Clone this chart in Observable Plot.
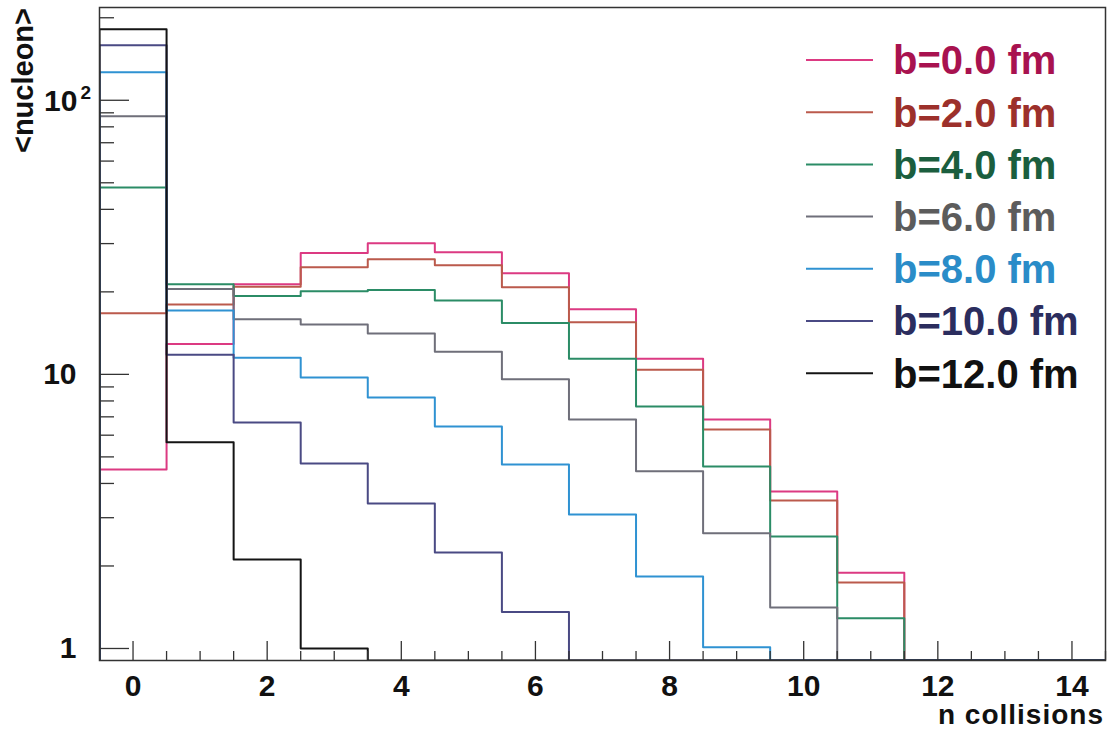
<!DOCTYPE html>
<html><head><meta charset="utf-8">
<script src="https://cdn.jsdelivr.net/npm/d3@7"></script>
<script src="https://cdn.jsdelivr.net/npm/@observablehq/plot@0.6"></script>
<style>
body{margin:0;background:#fff;}
#chart{position:relative;width:1111px;height:732px;}
</style>
</head><body><div id="chart"></div>
<script>
// ---- data ----
const bins = [0,1,2,3,4,5,6,7,8,9,10,11,12,13,14];
const labels = ["b=0.0 fm","b=2.0 fm","b=4.0 fm","b=6.0 fm","b=8.0 fm","b=10.0 fm","b=12.0 fm"];
const b00 = [4.5, 12.9, 21.3, 27.7, 30.1, 27.9, 23.4, 17.3, 11.4, 6.85, 3.74, 1.89, 0, 0, 0];
const b02 = [16.7, 18.0, 20.9, 24.6, 26.3, 25.0, 20.8, 15.5, 10.4, 6.30, 3.47, 1.74, 0, 0, 0];
const b04 = [48.1, 21.3, 19.3, 20.1, 20.3, 18.6, 15.4, 11.4, 7.64, 4.61, 2.56, 1.29, 0, 0, 0];
const b06 = [87.4, 20.5, 15.9, 15.2, 14.1, 12.1, 9.59, 6.85, 4.43, 2.63, 1.41, 0, 0, 0, 0];
const b08 = [126.5, 17.1, 11.5, 9.75, 8.24, 6.46, 4.69, 3.08, 1.83, 1.01, 0, 0, 0, 0, 0];
const b10 = [158.8, 11.8, 6.68, 4.73, 3.38, 2.24, 1.36, 0, 0, 0, 0, 0, 0, 0, 0];
const b12 = [181.6, 5.65, 2.11, 1.0, 0, 0, 0, 0, 0, 0, 0, 0, 0, 0, 0];
const seriesValues = [b00, b02, b04, b06, b08, b10, b12];
const lineColors = ["#dc3a82", "#bb5a4c", "#2b8c66", "#6f6f7a", "#2f92d2", "#4a4a84", "#141414"];
const textColors = ["#a8124f", "#9c302b", "#1b5e3e", "#5c5c5c", "#2a8cc8", "#2b2d5e", "#111111"];
const yMajorTicks = [1, 10, 100];
const yMajorLabels = ["1", "10", ""];   // 100 is written as 10 with a superscript 2 below
const yPowerBase = "10", yPowerExp = "2";
const yMinorTicks = [2,3,4,5,6,7,8,9,20,30,40,50,60,70,80,90,200];
const xMajorTicks = [0,2,4,6,8,10,12,14];
const xMinorTicks = [0.5,1,1.5,2.5,3,3.5,4.5,5,5.5,6.5,7,7.5,8.5,9,9.5,10.5,11,11.5,12.5,13,13.5,14.5];
const xLabel = "n collisions";
const yLabel = "<nucleon>";

// ---- layout ----
const W = 1111, H = 732;
const mL = 99, mR = 6, mT = 7, mB = 72;
const yMin = 0.904, yMax = 218;
const frameW = W - mL - mR, frameH = H - mT - mB;
const FONT = "'Liberation Sans', Arial, Helvetica, sans-serif";

// step-line vertices built from the bin values
const stepPts = [];
seriesValues.forEach((vals, s) => {
  const clamp = v => (v > 0 ? v : yMin);
  stepPts.push({s, x: bins[0] - 0.5, y: yMin});
  vals.forEach((v, i) => {
    stepPts.push({s, x: bins[i] - 0.5, y: clamp(v)});
    stepPts.push({s, x: bins[i] + 0.5, y: clamp(v)});
  });
});

const plot = Plot.plot({
  width: W, height: H,
  marginLeft: mL, marginRight: mR, marginTop: mT, marginBottom: mB,
  style: {background: "#fff", fontFamily: FONT},
  x: {domain: [-0.5, 14.5], axis: null},
  y: {type: "log", domain: [yMin, yMax], axis: null},
  marks: [
    Plot.line(stepPts, {x: "x", y: "y", z: "s", stroke: d => lineColors[d.s], strokeWidth: 2, clip: true}),
    Plot.tickY(yMajorTicks, {y: d => d, stroke: "#333", strokeWidth: 1.3, insetRight: frameW - 30}),
    Plot.tickY(yMinorTicks, {y: d => d, stroke: "#333", strokeWidth: 1.3, insetRight: frameW - 15}),
    Plot.tickX(xMajorTicks, {x: d => d, stroke: "#333", strokeWidth: 1.3, insetTop: frameH - 19}),
    Plot.tickX(xMinorTicks, {x: d => d, stroke: "#333", strokeWidth: 1.3, insetTop: frameH - 9}),
    Plot.frame({stroke: "#333", strokeWidth: 1.5}),
    Plot.axisX({ticks: xMajorTicks, tickSize: 0, tickPadding: 14, fontSize: 30, fontWeight: "bold", fill: "#111", tickFormat: d => String(d), label: null}),
    Plot.axisY({ticks: yMajorTicks, tickSize: 0, tickPadding: 23, fontSize: 30, fontWeight: "bold", fill: "#111",
      tickFormat: d => yMajorLabels[yMajorTicks.indexOf(d)], label: null})
  ]
});
document.getElementById("chart").appendChild(plot);

const svg = d3.select(plot);
const yScale = plot.scale("y");
// 10^2 label
const pw = svg.append("text")
  .attr("x", 44).attr("y", yScale.apply(100)).attr("dy", "0.36em")
  .attr("text-anchor", "start").attr("font-family", FONT).attr("font-weight", "bold")
  .attr("font-size", 30).attr("fill", "#111");
pw.append("tspan").text(yPowerBase);
pw.append("tspan").text(yPowerExp).attr("dx", 3).attr("dy", -12).attr("font-size", 19);

// axis titles
svg.append("text").text(xLabel)
  .attr("x", 1104).attr("y", 724).attr("text-anchor", "end")
  .attr("font-family", FONT).attr("font-weight", "bold").attr("font-size", 28)
  .attr("letter-spacing", 1).attr("fill", "#111");
svg.append("text").text(yLabel)
  .attr("transform", "translate(33,8) rotate(-90)").attr("text-anchor", "end")
  .attr("font-family", FONT).attr("font-weight", "bold").attr("font-size", 29)
  .attr("fill", "#111");

// legend
const leg = svg.append("g");
labels.forEach((lab, k) => {
  const cy = 60 + k * 52.2;
  leg.append("line").attr("x1", 806).attr("x2", 873).attr("y1", cy).attr("y2", cy)
    .attr("stroke", lineColors[k]).attr("stroke-width", 2);
  leg.append("text").text(lab).attr("x", 893).attr("y", cy).attr("dy", "0.36em")
    .attr("text-anchor", "start")
    .attr("font-family", FONT).attr("font-weight", "bold").attr("font-size", 40)
    .attr("fill", textColors[k]);
});
</script>
</body></html>
